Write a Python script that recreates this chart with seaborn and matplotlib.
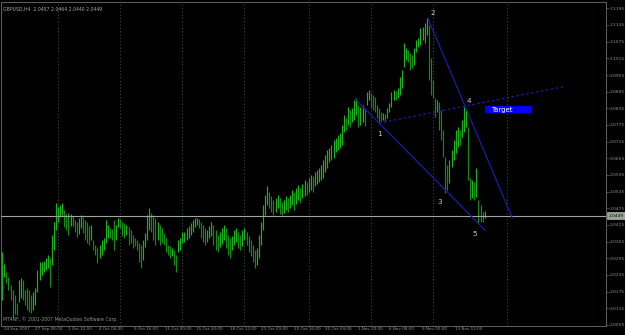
import numpy as np
import pandas as pd
import matplotlib
matplotlib.use("Agg")
import matplotlib.pyplot as plt
import matplotlib.transforms as mtransforms
from matplotlib.patches import Rectangle
import seaborn as sns

# ---------------- data (GBPUSD H4 bars) ----------------
highs = [
    2.0318, 2.0275, 2.0246, 2.0228, 2.0199, 2.0181, 2.0163, 2.0134, 2.0217, 2.0225,
    2.0217, 2.0181, 2.0189, 2.0181, 2.0163, 2.0174, 2.0189, 2.0253, 2.0282, 2.0282,
    2.0285, 2.0296, 2.0307, 2.0296, 2.0379, 2.0426, 2.0494, 2.0480, 2.0487, 2.0494,
    2.0469, 2.0455, 2.0458, 2.0455, 2.0447, 2.0433, 2.0426, 2.0440, 2.0451, 2.0444,
    2.0433, 2.0426, 2.0411, 2.0415, 2.0361, 2.0343, 2.0336, 2.0343, 2.0361, 2.0368,
    2.0433, 2.0415, 2.0404, 2.0401, 2.0433, 2.0415, 2.0440, 2.0437, 2.0426, 2.0422,
    2.0415, 2.0408, 2.0397, 2.0379, 2.0368, 2.0361, 2.0350, 2.0343, 2.0361, 2.0386,
    2.0451, 2.0476, 2.0458, 2.0451, 2.0440, 2.0426, 2.0415, 2.0404, 2.0386, 2.0368,
    2.0343, 2.0339, 2.0332, 2.0325, 2.0307, 2.0361, 2.0368, 2.0390, 2.0390, 2.0404,
    2.0411, 2.0422, 2.0433, 2.0440, 2.0440, 2.0437, 2.0426, 2.0415, 2.0404, 2.0397,
    2.0411, 2.0426, 2.0415, 2.0397, 2.0379, 2.0390, 2.0404, 2.0415, 2.0404, 2.0379,
    2.0368, 2.0375, 2.0397, 2.0404, 2.0390, 2.0379, 2.0397, 2.0404, 2.0390, 2.0375,
    2.0361, 2.0343, 2.0325, 2.0332, 2.0379, 2.0426, 2.0487, 2.0523, 2.0555, 2.0534,
    2.0519, 2.0505, 2.0512, 2.0523, 2.0512, 2.0498, 2.0505, 2.0519, 2.0512, 2.0523,
    2.0541, 2.0534, 2.0548, 2.0559, 2.0548, 2.0563, 2.0577, 2.0570, 2.0584, 2.0595,
    2.0591, 2.0606, 2.0613, 2.0620, 2.0631, 2.0649, 2.0667, 2.0685, 2.0692, 2.0703,
    2.0721, 2.0728, 2.0739, 2.0746, 2.0775, 2.0811, 2.0800, 2.0840, 2.0829, 2.0836,
    2.0865, 2.0872, 2.0847, 2.0840, 2.0847, 2.0836, 2.0894, 2.0901, 2.0890, 2.0883,
    2.0876, 2.0847, 2.0836, 2.0822, 2.0818, 2.0815, 2.0836, 2.0854, 2.0894, 2.0901,
    2.0897, 2.0908, 2.0948, 2.0973, 2.1070, 2.1052, 2.1045, 2.1034, 2.1027, 2.1052,
    2.1081, 2.1088, 2.1124, 2.1128, 2.1142, 2.1160, 2.1135, 2.1016, 2.0937, 2.0872,
    2.0865, 2.0858, 2.0829, 2.0757, 2.0660, 2.0631, 2.0649, 2.0685, 2.0721, 2.0757,
    2.0768, 2.0757, 2.0793, 2.0840, 2.0829, 2.0768, 2.0584, 2.0577, 2.0570, 2.0620,
    2.0505, 2.0487, 2.0462, 2.0464,
]
lows = [
    2.0145, 2.0228, 2.0207, 2.0181, 2.0145, 2.0084, 2.0095, 2.0091, 2.0138, 2.0152,
    2.0145, 2.0127, 2.0109, 2.0102, 2.0098, 2.0109, 2.0127, 2.0174, 2.0217, 2.0235,
    2.0246, 2.0253, 2.0260, 2.0192, 2.0271, 2.0325, 2.0397, 2.0426, 2.0444, 2.0451,
    2.0408, 2.0397, 2.0379, 2.0411, 2.0411, 2.0390, 2.0372, 2.0383, 2.0404, 2.0386,
    2.0361, 2.0350, 2.0343, 2.0361, 2.0325, 2.0307, 2.0278, 2.0296, 2.0307, 2.0325,
    2.0350, 2.0368, 2.0368, 2.0361, 2.0325, 2.0361, 2.0408, 2.0404, 2.0375, 2.0368,
    2.0379, 2.0343, 2.0350, 2.0332, 2.0339, 2.0325, 2.0282, 2.0260, 2.0289, 2.0336,
    2.0361, 2.0397, 2.0390, 2.0361, 2.0343, 2.0361, 2.0343, 2.0350, 2.0343, 2.0318,
    2.0307, 2.0296, 2.0303, 2.0271, 2.0246, 2.0318, 2.0325, 2.0350, 2.0354, 2.0361,
    2.0368, 2.0379, 2.0390, 2.0408, 2.0415, 2.0404, 2.0368, 2.0354, 2.0343, 2.0354,
    2.0368, 2.0375, 2.0343, 2.0325, 2.0318, 2.0336, 2.0347, 2.0361, 2.0332, 2.0307,
    2.0296, 2.0325, 2.0343, 2.0354, 2.0332, 2.0325, 2.0339, 2.0361, 2.0343, 2.0318,
    2.0303, 2.0282, 2.0260, 2.0271, 2.0296, 2.0343, 2.0397, 2.0451, 2.0487, 2.0476,
    2.0462, 2.0451, 2.0462, 2.0476, 2.0455, 2.0451, 2.0458, 2.0469, 2.0462, 2.0476,
    2.0487, 2.0469, 2.0491, 2.0505, 2.0494, 2.0512, 2.0519, 2.0523, 2.0534, 2.0541,
    2.0534, 2.0555, 2.0563, 2.0570, 2.0577, 2.0584, 2.0606, 2.0620, 2.0642, 2.0649,
    2.0656, 2.0678, 2.0685, 2.0692, 2.0703, 2.0750, 2.0757, 2.0775, 2.0768, 2.0786,
    2.0793, 2.0811, 2.0768, 2.0775, 2.0786, 2.0771, 2.0847, 2.0865, 2.0836, 2.0829,
    2.0822, 2.0800, 2.0782, 2.0789, 2.0793, 2.0789, 2.0800, 2.0822, 2.0840, 2.0865,
    2.0865, 2.0872, 2.0883, 2.0908, 2.0984, 2.1009, 2.1002, 2.0973, 2.0980, 2.0991,
    2.1038, 2.1056, 2.1063, 2.1081, 2.1070, 2.1099, 2.0937, 2.0883, 2.0872, 2.0804,
    2.0822, 2.0757, 2.0721, 2.0660, 2.0530, 2.0541, 2.0566, 2.0624, 2.0649, 2.0674,
    2.0696, 2.0703, 2.0732, 2.0750, 2.0768, 2.0577, 2.0505, 2.0512, 2.0505, 2.0516,
    2.0422, 2.0426, 2.0426, 2.0440,
]
title_text = "GBPUSD,H4  2.0457 2.0464 2.0440 2.0449"
copyright_text = "MT4NF, \u00a9 2001-2007 MetaQuotes Software Corp."
last_price = 2.0449

y_ticks = [2.0055, 2.0115, 2.0175, 2.0235, 2.0295, 2.0355, 2.0415, 2.0475, 2.0535,
           2.0595, 2.0655, 2.0715, 2.0775, 2.0835, 2.0895, 2.0955, 2.1015, 2.1075,
           2.1135, 2.1195]
x_tick_pos = [0, 15, 31, 46, 63, 78, 93, 109, 124, 140, 155, 171, 186, 202, 218]
x_tick_labels = ["24 Sep 2007", "27 Sep 08:00", "1 Oct 12:00", "4 Oct 04:00",
                 "9 Oct 16:00", "11 Oct 00:00", "15 Oct 20:00", "18 Oct 12:00",
                 "23 Oct 00:00", "25 Oct 16:00", "30 Oct 04:00", "1 Nov 20:00",
                 "6 Nov 08:00", "9 Nov 00:00", "13 Nov 12:00"]
week_grid = [27, 57, 87, 117, 148, 178, 208, 244]

wave_names = ["1", "2", "3", "4", "5"]
wave_idx = [182, 205.5, 214, 223.5, 231]
wave_price = [2.0782, 2.1160, 2.0541, 2.0843, 2.0426]
target_label = "Target"
target_box = (233, 256, 2.0818, 2.0843)  # x0, x1, y0, y1 (bar index / price)

# ---------------- style ----------------
sns.set_theme(style="dark")
plt.rcParams["font.family"] = ["DejaVu Sans"]
BG = "#000000"
FG = "#8e978e"
FRAME = "#5b635b"
BAR_UP = "#1fb01f"
BAR_DN = "#168a16"
WAVE = "#1c1ca8"

W, H, DPI = 625, 335, 100
fig = plt.figure(figsize=(W / DPI, H / DPI), dpi=DPI, facecolor=BG)
ax = fig.add_axes([1 / W, 9 / H, 605 / W, 324 / H])
ax.set_facecolor(BG)

n = len(highs)
idx = np.arange(n)
hi = np.array(highs)
lo = np.array(lows)
mid = (hi + lo) / 2
up = np.r_[True, mid[1:] >= mid[:-1]]
cols = np.where(up, BAR_UP, BAR_DN)

# weekly grid
for g in week_grid:
    ax.axvline(g, color="#34493a", lw=0.7, ls=(0, (1.2, 2.2)), zorder=0)

# bars
ax.vlines(idx, lo, hi, colors=cols, linewidth=0.85, zorder=2)

# current price line
ax.axhline(last_price, color="#a3a3a3", lw=0.8, zorder=3)

# wave lines
def seg(a, b, t0, t1):
    xa, ya = wave_idx[a], wave_price[a]
    xb, yb = wave_idx[b], wave_price[b]
    t = np.array([t0, t1])
    return pd.DataFrame({"x": xa + t * (xb - xa), "y": ya + t * (yb - ya)})

d13 = seg(0, 2, -0.36, 1.60)
d24 = seg(1, 3, 0.0, 2.27)
d14 = seg(0, 3, 0.0, 2.17)
sns.lineplot(data=d13, x="x", y="y", ax=ax, color=WAVE, lw=0.9, sort=False,
             estimator=None, zorder=4)
sns.lineplot(data=d24, x="x", y="y", ax=ax, color=WAVE, lw=0.9, sort=False,
             estimator=None, zorder=4)
sns.lineplot(data=d14, x="x", y="y", ax=ax, color=WAVE, lw=0.9, sort=False,
             estimator=None, zorder=4, linestyle=(0, (2, 2)))

# wave labels
offsets = [(0, -8), (4, 4), (-4, -9), (3, 4), (-4, -9)]
for name, xi, yi, off in zip(wave_names, wave_idx, wave_price, offsets):
    ax.annotate(name, (xi, yi), xytext=off, textcoords="offset points",
                ha="center", va="center", fontsize=5.2, color="#c9c9c9", zorder=6)

# target box
x0, x1, y0, y1 = target_box
ax.add_patch(Rectangle((x0, y0), x1 - x0, y1 - y0, facecolor="#0000ff",
                       edgecolor="none", zorder=5))
ax.text(x0 + 3, (y0 + y1) / 2, target_label, color="white", fontsize=5,
        ha="left", va="center", zorder=6)

# axes limits
ax.set_xlim(-0.6, 291.6)
ax.set_ylim(2.00514, 2.12178)
ax.set_xlabel("")
ax.set_ylabel("")

# y axis on right
ax.yaxis.tick_right()
ax.set_yticks(y_ticks)
ax.set_yticklabels([f"{v:.4f}" for v in y_ticks])
ax.tick_params(axis="y", length=2, width=0.5, color=FRAME, labelcolor=FG,
               labelsize=3.2, pad=1, direction="out")

# x axis
ax.set_xticks(x_tick_pos)
ax.set_xticklabels(x_tick_labels)
ax.tick_params(axis="x", length=3.8, width=0.5, color=FRAME, labelcolor=FG,
               labelsize=3.0, pad=-3.2, direction="out")
shift = mtransforms.ScaledTranslation(1.2 / 72, 0, fig.dpi_scale_trans)
for lab in ax.get_xticklabels():
    lab.set_ha("left")
    lab.set_transform(lab.get_transform() + shift)

ax.grid(False)
for s in ax.spines.values():
    s.set_color(FRAME)
    s.set_linewidth(0.7)

# price box
tr = mtransforms.blended_transform_factory(ax.transAxes, ax.transData)
ax.text(1.004, last_price, f"{last_price:.4f}", transform=tr, ha="left",
        va="center", fontsize=3.2, color="#000000", zorder=7, clip_on=False,
        bbox=dict(boxstyle="square,pad=0.25", fc="#9aa79a", ec="#c0c8c0", lw=0.4))

# texts
ax.text(0.004, 0.985, title_text, transform=ax.transAxes, ha="left", va="top",
        fontsize=3.3, color="#a6ada6")
ax.text(0.004, 0.012, copyright_text, transform=ax.transAxes, ha="left",
        va="bottom", fontsize=3.3, color="#8e978e")

fig.savefig("out.png", dpi=DPI, facecolor=BG)
